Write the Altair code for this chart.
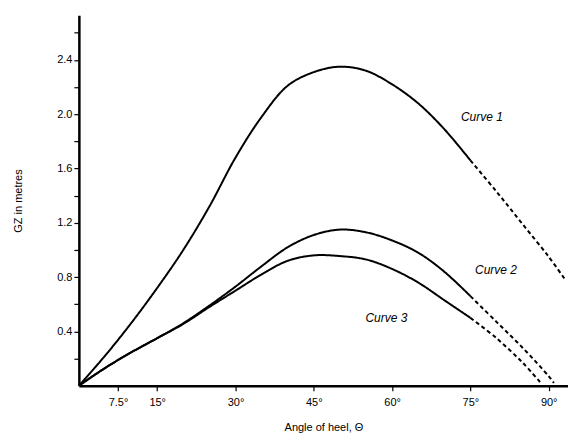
import altair as alt
import pandas as pd

# ---- data ----
angle_1 = [0, 5, 10, 15, 20, 25, 30, 35, 40, 45, 50, 55, 60, 65, 70, 75, 80, 85, 90, 93]
gz_1 = [0, 0.22, 0.46, 0.72, 1.00, 1.32, 1.68, 1.98, 2.21, 2.31, 2.35, 2.32, 2.22, 2.08, 1.89, 1.66, 1.43, 1.19, 0.95, 0.79]

angle_2 = [0, 5, 10, 15, 20, 25, 30, 35, 40, 45, 50, 55, 60, 65, 70, 75, 80, 85, 90, 91]
gz_2 = [0, 0.13, 0.245, 0.35, 0.46, 0.59, 0.73, 0.88, 1.02, 1.11, 1.15, 1.13, 1.07, 0.98, 0.84, 0.66, 0.47, 0.28, 0.07, 0.02]

angle_3 = [0, 5, 10, 15, 20, 25, 30, 35, 40, 45, 50, 55, 60, 65, 70, 75, 80, 85, 88.5]
gz_3 = [0, 0.13, 0.245, 0.35, 0.455, 0.58, 0.70, 0.82, 0.92, 0.96, 0.955, 0.93, 0.86, 0.76, 0.63, 0.50, 0.35, 0.17, 0.02]

dash_from = 75  # angle where each curve turns dashed

label_text = ["Curve 1", "Curve 2", "Curve 3"]
label_angle = [77.2, 79.9, 58.9]
label_gz = [1.98, 0.85, 0.50]

x_ticks = [7.5, 15, 30, 45, 60, 75, 90]
y_ticks = [0.2, 0.4, 0.6, 0.8, 1.0, 1.2, 1.4, 1.6, 1.8, 2.0, 2.2, 2.4, 2.6]
y_labelled = ["0.4", "0.8", "1.2", "1.6", "2.0", "2.4"]

# ---- build long table ----
rows = []
for name, xs, ys in [("Curve 1", angle_1, gz_1), ("Curve 2", angle_2, gz_2), ("Curve 3", angle_3, gz_3)]:
    for i, (a, g) in enumerate(zip(xs, ys)):
        if a <= dash_from:
            rows.append({"curve": name, "seg": "solid", "key": name + " solid", "angle": a, "gz": g, "o": i})
        if a >= dash_from:
            rows.append({"curve": name, "seg": "dashed", "key": name + " dashed", "angle": a, "gz": g, "o": i})
df = pd.DataFrame(rows)
labels = pd.DataFrame({"text": label_text, "angle": label_angle, "gz": label_gz})

xscale = alt.Scale(domain=[0, 93.7], nice=False, zero=True)
yscale = alt.Scale(domain=[0, 2.728], nice=False, zero=True)

lab_list = "[" + ",".join("'" + s + "'" for s in y_labelled) + "]"

x_axis = alt.Axis(values=x_ticks, tickCount=30, labelExpr="datum.value + '°'", title="Angle of heel, Θ",
                  titlePadding=14, labelPadding=6, labelOverlap=False)
y_axis = alt.Axis(values=y_ticks, tickCount=30, format=".1f",
                  labelExpr="indexof(" + lab_list + ", datum.label) >= 0 ? datum.label : ''",
                  labelOverlap=False, title="GZ in metres", titlePadding=33, labelPadding=2)

lines = alt.Chart(df).mark_line(color="black", strokeWidth=2, interpolate="catmull-rom", clip=True).encode(
    x=alt.X("angle:Q", scale=xscale, axis=x_axis),
    y=alt.Y("gz:Q", scale=yscale, axis=y_axis),
    strokeDash=alt.StrokeDash("seg:N", scale=alt.Scale(domain=["solid", "dashed"], range=[[1, 0], [4, 3]]),
                              legend=None),
    detail="key:N",
    order="o:Q",
)

text = alt.Chart(labels).mark_text(fontStyle="italic", fontSize=12, font="Liberation Sans", color="black").encode(
    x=alt.X("angle:Q", scale=xscale, axis=x_axis),
    y=alt.Y("gz:Q", scale=yscale, axis=y_axis),
    text="text:N",
)

chart = (lines + text).properties(
    width=490, height=371,
    autosize=alt.AutoSizeParams(type="none"),
    padding={"left": 71, "top": 7, "right": 0, "bottom": 50},
    background="white",
).configure_view(stroke=None).configure_axis(
    grid=False,
    domainColor="black", domainWidth=2.5,
    tickColor="black", tickWidth=1.2, tickSize=5,
    labelColor="black", labelFont="Liberation Sans", labelFontSize=11,
    titleColor="black", titleFont="Liberation Sans", titleFontSize=11, titleFontWeight="normal",
)

chart.save("out.html", embed_options={"renderer": "svg", "actions": False})
